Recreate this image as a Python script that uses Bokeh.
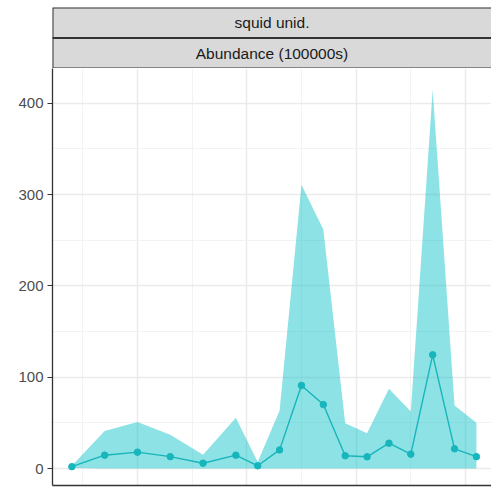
from bokeh.plotting import figure
from bokeh.layouts import column
from bokeh.models import Range1d, FixedTicker, ColumnDataSource
from bokeh.core.properties import value
from bokeh.embed import file_html
from bokeh.resources import INLINE

# ---- data ----
strip_labels = ["squid unid.", "Abundance (100000s)"]
years = [1977, 1978.5, 1980, 1981.5, 1983, 1984.5, 1985.5, 1986.5, 1987.5,
         1988.5, 1989.5, 1990.5, 1991.5, 1992.5, 1993.5, 1994.5, 1995.5]
abundance = [2, 14.6, 17.9, 13, 5.8, 14.6, 3, 20.4, 91, 70, 14, 12.8, 27.7,
             15.7, 124.5, 21.6, 13]
upper = [3, 41, 51, 37, 15, 55.5, 7, 63.5, 310.7, 261.8, 49.6, 38.7, 87.3,
         62.4, 414.8, 69, 50]
lower = [0.5, 0, 0, 0, 0, 0, 0, 0, 0, 0, 0, 0, 0, 0, 0, 0, 0]
y_ticks = [0, 100, 200, 300, 400]
y_minor = [-50, 50, 150, 250, 350, 450]
x_major = [1975, 1980, 1985, 1990, 1995]
x_minor = [1977.5, 1982.5, 1987.5, 1992.5]

FONT = "Liberation Sans"
TEAL = "#00BFC4"
LINE = "#17B5BC"

W = 491
LEFT = 52

# ---- strip figure ----
s = figure(width=W, height=68, output_backend="svg", toolbar_location=None,
           x_range=Range1d(0, 1), y_range=Range1d(0, 2),
           min_border_left=LEFT, min_border_right=0, min_border_top=7,
           min_border_bottom=0, x_axis_location=None, y_axis_location=None)
s.grid.visible = False
s.outline_line_color = None
s.background_fill_color = "white"
strip_src = ColumnDataSource(dict(
    label=strip_labels,
    bottom=[1, 0], top=[2, 1], left=[0, 0], right=[1.1, 1.1],
    ymid=[1.5, 0.5], xmid=[0.5, 0.5]))
s.quad(left="left", right="right", bottom="bottom", top="top", source=strip_src,
       fill_color="#D9D9D9", line_color="#333333", line_width=2)
s.text(x="xmid", y="ymid", text="label", source=strip_src,
       text_font=value(FONT), text_font_size="15.5px", text_color="#1A1A1A",
       text_align="center", text_baseline="middle")

# ---- main panel ----
p = figure(width=W, height=419, output_backend="svg", toolbar_location=None,
           x_range=Range1d(1976.115, 1996.19), y_range=Range1d(-18.6, 438),
           min_border_left=LEFT, min_border_right=0, min_border_top=0,
           min_border_bottom=2)
p.outline_line_color = None
p.background_fill_color = "white"

p.xgrid.ticker = FixedTicker(ticks=x_major, minor_ticks=x_minor)
p.ygrid.ticker = FixedTicker(ticks=y_ticks, minor_ticks=y_minor)
for g in (p.xgrid, p.ygrid):
    g.grid_line_color = "#EBEBEB"
    g.grid_line_width = 1.5
    g.minor_grid_line_color = "#F3F3F3"
    g.minor_grid_line_width = 1

xa = p.xaxis[0]
xa.ticker = FixedTicker(ticks=[])
xa.axis_line_color = "#333333"
xa.axis_line_width = 1.3
xa.major_tick_out = 0
xa.major_tick_in = 0
xa.minor_tick_out = 0
xa.minor_tick_in = 0
xa.major_label_standoff = 0
xa.major_label_text_font_size = "0px"

ax = p.yaxis[0]
ax.ticker = FixedTicker(ticks=y_ticks)
ax.axis_line_color = "#333333"
ax.axis_line_width = 1.3
ax.major_tick_line_color = "#333333"
ax.major_tick_line_width = 1.1
ax.major_tick_out = 5
ax.major_tick_in = 0
ax.minor_tick_line_color = None
ax.major_label_standoff = 4
ax.major_label_text_font = FONT
ax.major_label_text_font_size = "15px"
ax.major_label_text_color = "#4D4D4D"

src = ColumnDataSource(dict(x=years, y=abundance, lo=lower, hi=upper))
p.varea(x="x", y1="lo", y2="hi", source=src, fill_color=TEAL, fill_alpha=0.45)
p.line(x="x", y="y", source=src, line_color=LINE, line_width=1.4)
p.scatter(x="x", y="y", source=src, size=6.5, fill_color=LINE, line_color=LINE)

layout = column(s, p, spacing=0)
open("out.html", "w").write(file_html(layout, INLINE))
